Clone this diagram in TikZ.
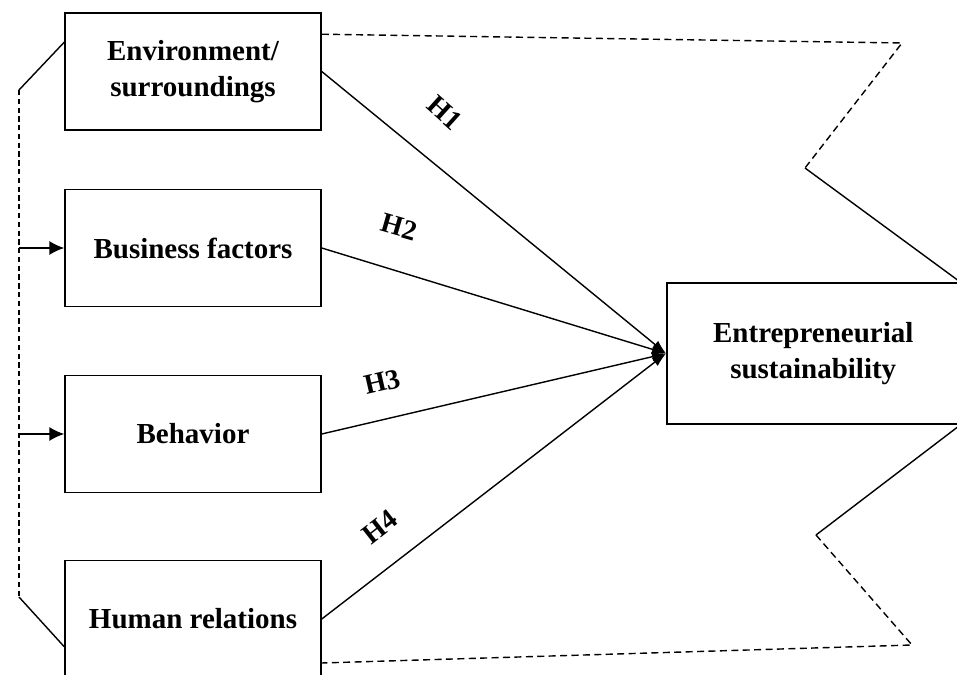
\documentclass[tikz,border=0pt]{standalone}
\usepackage{fontspec}
\setmainfont{Liberation Serif}
\usetikzlibrary{arrows.meta}

\begin{document}
\begin{tikzpicture}[x=0.02cm,y=-0.02cm,
    factor/.style={draw,line width=0.9pt,minimum width=5.12cm,minimum height=2.34cm,align=center,
      font=\bfseries\fontsize{16.5}{20.5}\selectfont},
    hyp/.style={line width=0.8pt,-{Latex[length=8pt,width=5.5pt]}},
    feed/.style={line width=0.8pt,-{Latex[length=8.5pt,width=8pt]}},
    hlabel/.style={font=\bfseries\fontsize{16}{18}\selectfont},
    zig/.style={line width=0.8pt,dash pattern=on 4pt off 2.5pt}]
    %Frame
    \useasboundingbox (0,0) rectangle (957,675);
    \clip (0,0) rectangle (957,675);
    %Factors
    \node[factor] (env) at (193,71.5) {Environment/\\surroundings};
    \node[factor] (bus) at (193,248) {Business factors};
    \node[factor] (beh) at (193,434) {Behavior};
    \node[factor] (hum) at (193,619) {Human relations};
    \node[factor,minimum width=5.86cm,minimum height=2.82cm,anchor=west] (es) at (666,353.5)
      {Entrepreneurial\\sustainability};
    %Left bracket
    \coordinate (lt) at (19,90);
    \coordinate (lb) at (19,597);
    \draw[line width=0.8pt] ([yshift=-0.6cm]env.north west) -- (lt);
    \draw[line width=0.8pt,dash pattern=on 3pt off 2pt] (lt) -- (lb);
    \draw[line width=0.8pt] (lb) -- ([yshift=-1.74cm]hum.north west);
    \draw[feed] (lt |- bus.west) -- (bus.west);
    \draw[feed] (lt |- beh.west) -- (beh.west);
    %Right zigzag
    \coordinate (tc) at (902,43);
    \coordinate (ti) at (805,168);
    \coordinate (bi) at (816,535);
    \coordinate (bc) at (912,645);
    \draw[zig] ([yshift=-0.44cm]env.north east) -- (tc) -- (ti);
    \draw[line width=0.8pt] (ti) -- (es.north east);
    \draw[line width=0.8pt] (es.south east) -- (bi);
    \draw[zig] (bi) -- (bc) -- ([yshift=-0.88cm]hum.east);
    %Hypotheses
    \draw[hyp] (env.east) -- (es.west);
    \draw[hyp] (bus.east) -- (es.west);
    \draw[hyp] (beh.east) -- (es.west);
    \draw[hyp] (hum.east) -- (es.west);
    \node[hlabel,rotate=-42] (h1) at (445,113) {H1};
    \node[hlabel,rotate=-16] (h2) at (399,227) {H2};
    \node[hlabel,rotate=13] (h3) at (382,382) {H3};
    \node[hlabel,rotate=38] (h4) at (380,527) {H4};
\end{tikzpicture}
\end{document}
